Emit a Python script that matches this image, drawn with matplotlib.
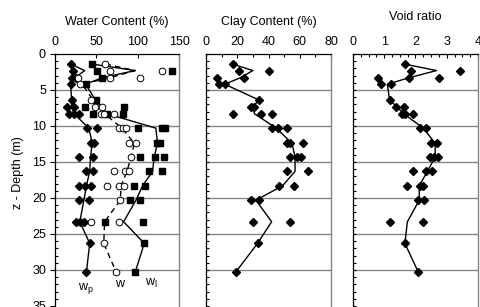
import matplotlib
matplotlib.use('Agg')
import matplotlib.pyplot as plt
from matplotlib.ticker import MultipleLocator

plt.rcParams['font.family'] = ['Liberation Sans', 'DejaVu Sans']
plt.rcParams['mathtext.fontset'] = 'custom'
plt.rcParams['mathtext.rm'] = 'Liberation Sans'
plt.rcParams['mathtext.it'] = 'Liberation Sans'

# ---------------- data ----------------
line_depth = [1.4, 2.3, 3.3, 4.2, 6.4, 7.3, 8.3, 10.3, 12.4, 14.3, 16.3, 18.3, 20.3, 23.3, 26.3, 30.3]

# plastic limit wp (diamonds)
wp_depth = [1.4, 2.3, 3.3, 3.3, 4.2, 6.4, 7.3, 7.3, 8.3, 8.3, 8.3, 10.3, 10.3, 12.4, 12.4,
            14.3, 14.3, 16.3, 16.3, 18.3, 18.3, 18.3, 20.3, 20.3, 23.3, 23.3, 23.3, 26.3, 30.3]
wp_vals = [19, 22, 21, 25, 19, 20, 15, 23, 17, 23, 29, 39, 51, 43, 47,
           29, 46, 37, 46, 29, 36, 43, 29, 41, 25, 30, 35, 42, 38]
wp_line = [19, 36, 24, 19, 20, 20, 23, 41, 45, 43, 42, 38, 35, 30, 42, 38]

# natural water content w (open circles)
w_depth = [1.4, 2.3, 2.3, 3.3, 3.3, 3.3, 4.2, 6.4, 7.3, 7.3, 8.3, 8.3, 8.3, 10.3, 10.3, 10.3,
           12.4, 12.4, 14.3, 16.3, 16.3, 16.3, 18.3, 18.3, 18.3, 20.3, 23.3, 23.3, 26.3, 30.3]
w_vals = [61, 67, 130, 28, 66, 103, 30, 44, 48, 57, 56, 59, 71, 77, 82, 86,
          89, 98, 92, 71, 85, 90, 63, 77, 83, 79, 43, 78, 59, 74]
w_line = [61, 97, 66, 33, 46, 53, 60, 81, 96, 92, 87, 80, 79, 60, 59, 74]

# liquid limit wl (squares)
wl_depth = [1.4, 2.3, 2.3, 3.3, 4.2, 6.4, 7.3, 7.3, 8.3, 8.3, 8.3, 10.3, 10.3, 10.3,
            12.4, 12.4, 14.3, 14.3, 14.3, 16.3, 16.3, 18.3, 18.3, 20.3, 20.3, 23.3, 23.3, 26.3, 30.3]
wl_vals = [45, 51, 142, 57, 37, 49, 36, 83, 46, 63, 82, 100, 130, 133,
           123, 127, 103, 121, 132, 114, 129, 95, 109, 91, 103, 60, 106, 108, 97]
wl_line = [45, 97, 57, 37, 49, 56, 63, 122, 124, 120, 118, 106, 98, 83, 108, 97]

# clay content
clay_depth = [1.4, 2.3, 2.3, 3.3, 3.3, 4.2, 4.2, 6.4, 7.3, 7.3, 8.3, 8.3, 8.3, 10.3, 10.3, 10.3,
              12.4, 12.4, 12.4, 14.3, 14.3, 14.3, 16.3, 16.3, 18.3, 18.3, 20.3, 20.3, 23.3, 23.3, 26.3, 30.3]
clay_vals = [17, 21, 40, 7, 24, 8, 12, 34, 29, 31, 17, 35, 42, 42, 46, 52,
             52, 54, 62, 54, 58, 61, 52, 65, 47, 56, 29, 34, 30, 54, 33, 19]
clay_line = [17, 30, 22, 12, 34, 30, 31, 45, 55, 57, 57, 49, 32, 42, 33, 19]

# void ratio
void_depth = [1.4, 2.3, 2.3, 3.3, 3.3, 3.3, 4.2, 4.2, 6.4, 7.3, 7.3, 8.3, 8.3, 8.3, 10.3, 10.3,
              12.4, 12.4, 14.3, 14.3, 14.3, 16.3, 16.3, 16.3, 18.3, 18.3, 18.3, 20.3, 20.3, 23.3, 23.3, 26.3, 30.3]
void_vals = [1.65, 1.87, 3.43, 0.80, 1.79, 2.74, 0.89, 1.23, 1.17, 1.37, 1.62, 1.58, 1.65, 1.92, 2.15, 2.33,
             2.50, 2.70, 2.48, 2.60, 2.73, 1.93, 2.34, 2.52, 1.74, 2.14, 2.25, 2.09, 2.28, 1.18, 2.25, 1.66, 2.09]
void_line = [1.65, 2.67, 1.79, 1.10, 1.17, 1.40, 1.62, 2.25, 2.63, 2.63, 2.38, 2.12, 2.12, 1.74, 1.66, 2.09]

titles = ["Water Content (%)", "Clay Content (%)", "Void ratio"]
xlims = [(0, 150), (0, 80), (0, 4)]
xmajors = [50, 20, 1]
xminors = [None, 10, 0.25]

# ---------------- figure ----------------
W, H = 481, 307
fig = plt.figure(figsize=(W / 100, H / 100), dpi=100)
FS = 9


def axpos(l, r, top=54, bot=306):
    return [l / W, 1 - bot / H, (r - l) / W, (bot - top) / H]


lefts_rights = [(55, 179), (206, 331), (353, 478)]
axes = [fig.add_axes(axpos(l, r)) for l, r in lefts_rights]

GRID = '#858585'
for i, ax in enumerate(axes):
    ax.set_xlim(*xlims[i])
    ax.set_ylim(35, 0)
    ax.xaxis.tick_top()
    ax.xaxis.set_major_locator(MultipleLocator(xmajors[i]))
    if xminors[i]:
        ax.xaxis.set_minor_locator(MultipleLocator(xminors[i]))
    ax.tick_params(axis='x', which='both', direction='in', top=True, bottom=False,
                   labelsize=FS, pad=4.5, width=0.8, colors='black')
    ax.tick_params(axis='x', which='major', length=3)
    ax.tick_params(axis='x', which='minor', length=2)
    ax.yaxis.set_major_locator(MultipleLocator(5))
    ax.yaxis.set_minor_locator(MultipleLocator(1))
    ax.tick_params(axis='y', which='minor', direction='in', length=2.5, width=0.8)
    if i == 0:
        ax.tick_params(axis='y', which='major', direction='out', length=3.5, width=0.8,
                       labelsize=FS, pad=3)
    else:
        ax.tick_params(axis='y', which='major', direction='in', length=2.5, width=0.8,
                       labelleft=False)
    for y in range(5, 35, 5):
        ax.axhline(y, color=GRID, lw=1.0, zorder=0.5)
    ax.spines['bottom'].set_visible(False)
    ax.spines['right'].set_color(GRID)
    ax.spines['right'].set_linewidth(1.0)
    ax.spines['top'].set_linewidth(0.9)
    ax.spines['left'].set_linewidth(0.9)
    cx = (lefts_rights[i][0] + lefts_rights[i][1]) / 2 / W
    ty = 17 if i == 2 else 22
    fig.text(cx, 1 - ty / H, titles[i], ha='center', va='center', fontsize=FS)

ax1, ax2, ax3 = axes

dm = dict(marker='D', ms=4.0, color='black', ls='none', zorder=3)
ax1.plot(wp_line, line_depth, color='black', lw=1, zorder=2)
ax1.plot(w_line, line_depth, color='black', lw=1, ls=(0, (4, 3)), zorder=2)
ax1.plot(wl_line, line_depth, color='black', lw=1, zorder=2)
ax1.plot(wp_vals, wp_depth, **dm)
ax1.plot(w_vals, w_depth, marker='o', ms=4.8, mfc='white', mec='black', mew=0.7,
         ls='none', zorder=4)
ax1.plot(wl_vals, wl_depth, marker='s', ms=4.5, color='black', ls='none', zorder=3)

ax1.text(37.5, 32.6, r'w$_\mathrm{p}$', ha='center', va='center', fontsize=FS)
ax1.text(78.5, 32.0, 'w', ha='center', va='center', fontsize=FS)
ax1.text(116, 31.8, r'w$_\mathrm{l}$', ha='center', va='center', fontsize=FS)

ax2.plot(clay_line, line_depth, color='black', lw=1, zorder=2)
ax2.plot(clay_vals, clay_depth, **dm)

ax3.plot(void_line, line_depth, color='black', lw=1, zorder=2)
ax3.plot(void_vals, void_depth, **dm)

fig.text(18 / W, 1 - 173 / H, 'z - Depth (m)', rotation=90, ha='center', va='center', fontsize=FS)

fig.savefig('out.png', dpi=100)
